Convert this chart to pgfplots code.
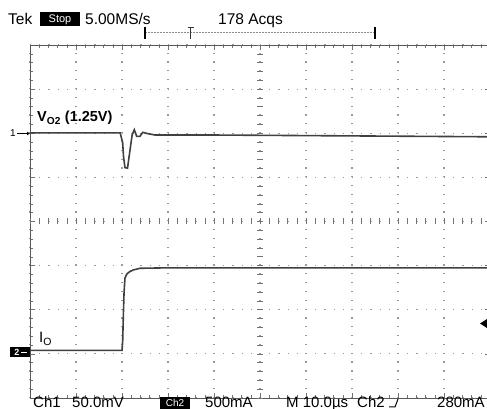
\documentclass[border=0pt]{standalone}
\usepackage{pgfplots}
\pgfplotsset{compat=1.18}
\usetikzlibrary{arrows.meta}
\usepackage{fontspec}
\setmainfont{Liberation Sans}
\begin{document}
\begin{tikzpicture}
\useasboundingbox (0pt,0pt) rectangle (487pt,409pt);
\begin{axis}[
  at={(30pt,11pt)}, anchor=south west,
  scale only axis, width=460pt, height=353pt,
  xmin=0, xmax=10, ymin=0, ymax=8,
  xtick={0,...,10}, ytick={0,...,8},
  xticklabels={}, yticklabels={},
  minor x tick num=4, minor y tick num=4,
  tick align=inside, major tick length=5pt, minor tick length=3pt,
  tick style={black!55, line width=0.6pt},
  grid=major,
  x grid style={black!40, line width=1.2pt, dash pattern=on 1.2pt off 7.625pt},
  y grid style={black!40, line width=1.2pt, dash pattern=on 1.2pt off 8pt},
  axis line style={black!65, line width=0.9pt},
  clip=false,
]
% V_O2 trace (channel 1)
\addplot[black!75, line width=1.6pt] coordinates {
  (0,6.01) (1.96,6.01) (2.015,5.78) (2.033,5.47) (2.065,5.22) (2.12,5.21)
  (2.165,5.55) (2.22,5.96) (2.267,6.08) (2.32,5.93) (2.39,5.93) (2.45,6.02)
  (2.565,5.99) (2.72,5.96) (4,5.96) (7,5.94) (10,5.92)
};
% I_O trace (channel 2)
\addplot[black!75, line width=1.6pt] coordinates {
  (0,1.08) (2.0,1.08) (2.015,1.3) (2.03,1.9) (2.045,2.4) (2.065,2.72)
  (2.1,2.8) (2.16,2.86) (2.24,2.9) (2.39,2.94) (3,2.95) (10,2.95)
};
\end{axis}

% centre crosshair ticks
\foreach \i in {0,...,40} {
  \draw[black!55, line width=0.6pt] (257pt, 11pt+\i*8.825pt) -- (263pt, 11pt+\i*8.825pt);
}
\foreach \i in {0,...,50} {
  \draw[black!55, line width=0.6pt] (30pt+\i*9.2pt, 184.5pt) -- (30pt+\i*9.2pt, 190.5pt);
}

% top status line
\node[anchor=base west, inner sep=0pt, font=\fontsize{15.5}{16}\selectfont] at (8pt,384pt) {Tek};
\fill[black] (40pt,383pt) rectangle (80pt,396.5pt);
\node[text=white, inner sep=0pt, font=\fontsize{11}{12}\selectfont] at (60pt,389.5pt) {Stop};
\node[anchor=base west, inner sep=0pt, font=\fontsize{15.5}{16}\selectfont] at (85pt,384pt) {5.00MS/s};
\node[anchor=base west, inner sep=0pt, font=\fontsize{15.5}{16}\selectfont] at (218pt,384pt) {178 Acqs};

% trigger position bar
\draw[black!45, line width=1pt, dash pattern=on 1.5pt off 1.5pt] (145pt,376pt) -- (375pt,376pt);
\draw[black, line width=2pt] (145pt,370pt) -- (145pt,382pt);
\draw[black, line width=2pt] (375pt,370pt) -- (375pt,382pt);
\draw[black!80, line width=1pt] (190.5pt,370pt) -- (190.5pt,381pt) (187.5pt,381pt) -- (193.5pt,381pt);

% bottom status line
\node[anchor=base west, inner sep=0pt, font=\fontsize{15}{16}\selectfont] at (33pt,1.5pt) {Ch1};
\node[anchor=base west, inner sep=0pt, font=\fontsize{15}{16}\selectfont] at (72pt,1.5pt) {50.0mV};
\fill[black] (160pt,0pt) rectangle (190pt,12pt);
\node[text=white, inner sep=0pt, font=\fontsize{10}{11}\selectfont] at (175pt,6pt) {Ch2};
\node[anchor=base west, inner sep=0pt, font=\fontsize{15}{16}\selectfont] at (205pt,1.5pt) {500mA};
\node[anchor=base west, inner sep=0pt, font=\fontsize{15}{16}\selectfont] at (286pt,1.5pt) {M 10.0µs};
\node[anchor=base west, inner sep=0pt, font=\fontsize{15}{16}\selectfont] at (357pt,1.5pt) {Ch2};
\draw[black, line width=1pt] (389pt,2pt) -- (395pt,2pt) -- (398pt,10pt);
\node[anchor=base west, inner sep=0pt, font=\fontsize{15}{16}\selectfont] at (437pt,1.5pt) {280mA};

% trace labels
\node[anchor=base west, inner sep=0pt, font=\fontsize{14.5}{15}\selectfont\bfseries] at (37pt,287pt) {V\textsubscript{O2} (1.25V)};
\node[anchor=base west, inner sep=0pt, font=\fontsize{15}{16}\selectfont] at (39pt,66pt) {I\textsubscript{O}};

% channel markers
\node[inner sep=0pt, font=\fontsize{10}{11}\selectfont] at (13pt,275.5pt) {1};
\draw[black, line width=0.8pt, -{Latex[length=3pt,width=4pt]}] (17pt,275.5pt) -- (30pt,275.5pt);
\fill[black] (10pt,52pt) rectangle (30pt,62pt);
\node[text=white, inner sep=0pt, font=\fontsize{9}{10}\selectfont\bfseries] at (17pt,57pt) {2};
\draw[white, line width=0.8pt] (21pt,57pt) -- (27pt,57pt);
% trigger level marker
\fill[black] (480pt,85.5pt) -- (487pt,90pt) -- (487pt,81pt) -- cycle;
\end{tikzpicture}
\end{document}
